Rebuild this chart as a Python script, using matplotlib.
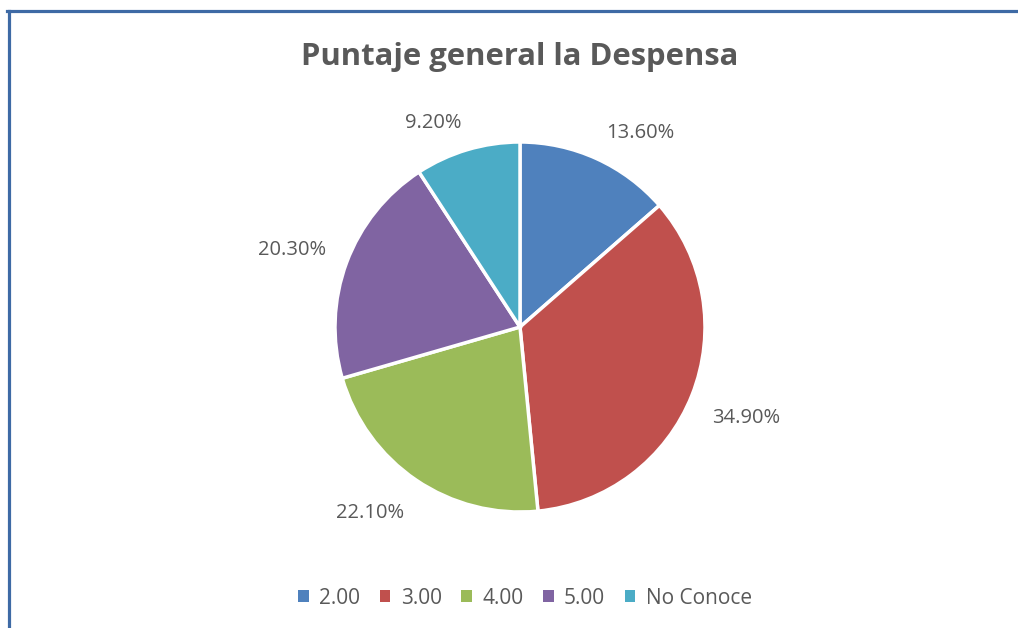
import numpy as np
import matplotlib.pyplot as plt
from matplotlib.patches import Patch
from matplotlib.lines import Line2D

plt.rcParams['font.family'] = ['Open Sans', 'DejaVu Sans']

labels = ["2.00", "3.00", "4.00", "5.00", "No Conoce"]
values = [13.6, 34.9, 22.1, 20.3, 9.2]
colors = ["#4F81BD", "#C0504D", "#9BBB59", "#8064A2", "#4BACC6"]
text_color = "#595959"

W, H = 1018, 628
fig = plt.figure(figsize=(W / 100, H / 100), dpi=100)

# pie axes: centre (520, 327) px, radius 185 px
cx, cy, r = 520, 327, 185
ax = fig.add_axes([(cx - r) / W, (H - cy - r) / H, 2 * r / W, 2 * r / H])
wedges, _ = ax.pie(values, colors=colors, startangle=90, counterclock=False,
                   radius=1.0, wedgeprops=dict(edgecolor="white", linewidth=2.5))
ax.set_xlim(-1, 1)
ax.set_ylim(-1, 1)
ax.set_aspect("equal")
ax.axis("off")

# outside-end labels: the box corner nearest the pie sits on the wedge's mid ray
for w, v in zip(wedges, values):
    ang = np.deg2rad((w.theta1 + w.theta2) / 2)
    c, s = np.cos(ang), np.sin(ang)
    d = 1.12
    ax.annotate(f"{v:.2f}%", (d * c, d * s), xytext=(0, -3.5),
                textcoords="offset points",
                ha="left" if c > 0 else "right",
                va="bottom" if s > 0 else "top",
                fontsize=14.5, color=text_color, annotation_clip=False)

fig.text(520 / W, 1 - 57 / H, "Puntaje general la Despensa", ha="center", va="center",
         fontsize=22.3, fontweight="bold", color=text_color)

handles = [Patch(facecolor=c, edgecolor="none") for c in colors]
fig.legend(handles, labels, loc="center", bbox_to_anchor=(525 / W, 1 - 598 / H),
           ncol=5, frameon=False, fontsize=15, labelcolor=text_color,
           handlelength=0.5, handleheight=0.5, handletextpad=0.5, columnspacing=0.95)

# frame lines along the top and left
border = "#3E6AA5"
fig.add_artist(Line2D([7 / W, 1], [1 - 11 / H, 1 - 11 / H], color=border, linewidth=2.3,
                      transform=fig.transFigure))
fig.add_artist(Line2D([8.5 / W, 8.5 / W], [0, 1 - 11 / H], color=border, linewidth=2.3,
                      transform=fig.transFigure))

fig.savefig("out.png", dpi=100)
